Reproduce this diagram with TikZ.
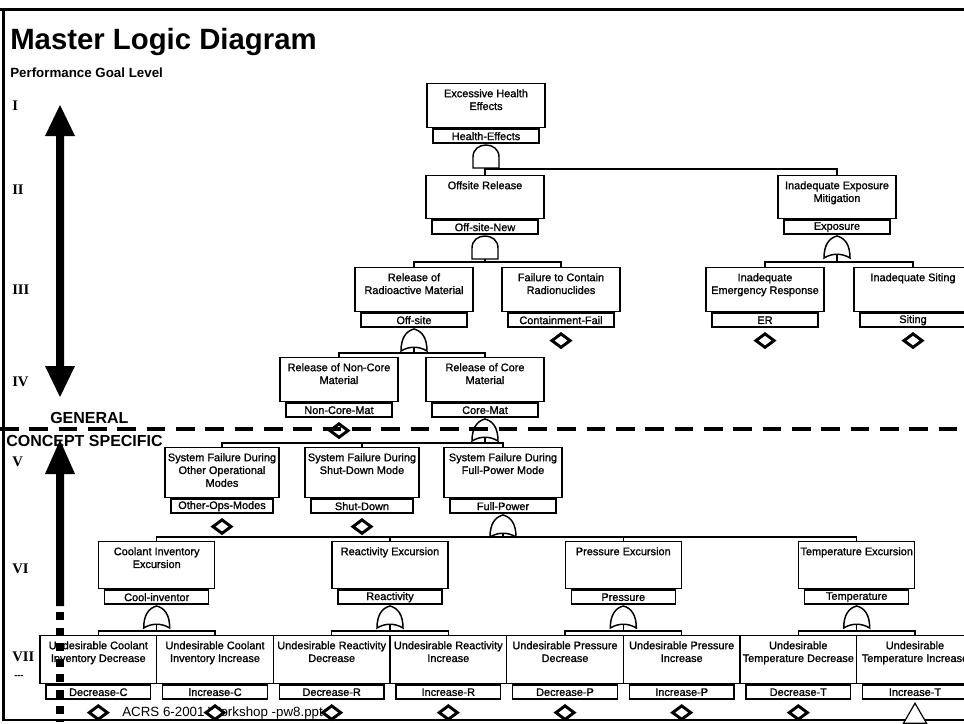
\documentclass[tikz,border=0pt]{standalone}
\usepackage{fontspec}
\setmainfont{Liberation Sans}
\newfontfamily\levelfont{Liberation Serif}
\newfontfamily\boxfont{Liberation Sans}[FakeBold=1.2]
\usetikzlibrary{shapes.geometric}

\tikzset{
  evbox/.style={draw, line width=1.1pt, inner sep=0pt, anchor=north},
  evtext/.style={inner sep=0pt, align=center, anchor=north,
    font=\boxfont\fontsize{8.2pt}{9.6pt}\selectfont},
  lblbox/.style={draw, line width=1.1pt, inner sep=0pt, anchor=north,
    minimum height=10.5pt, font=\boxfont\fontsize{8.2pt}{9.6pt}\selectfont},
  conn/.style={line width=1.1pt},
  gateline/.style={line width=1.1pt},
  basicev/.style={diamond, draw, fill=white, line width=2.2pt, inner sep=0pt,
    minimum width=14.5pt, minimum height=11pt},
  transferev/.style={regular polygon, regular polygon sides=3, draw, fill=white,
    line width=0.9pt, inner sep=0pt, minimum size=20pt},
  lvl/.style={font=\levelfont\bfseries\fontsize{11pt}{13pt}\selectfont,
    anchor=west, inner sep=0pt},
  heading/.style={font=\bfseries\fontsize{12pt}{14pt}\selectfont,
    anchor=base west, inner sep=0pt},
  andgate/.pic={
    \draw[gateline] (-13,23) -- (-13,12) .. controls (-13,-4) and (13,-4) .. (13,12) -- (13,23) -- cycle;
    \coordinate (-out) at (0,23);
  },
  orgate/.pic={
    \draw[gateline] (-13,22) .. controls (-13,9) and (-8,2) .. (0,0)
      .. controls (8,2) and (13,9) .. (13,22)
      .. controls (5,17) and (-5,17) .. (-13,22) -- cycle;
    \coordinate (-out) at (0,18.2);
  },
}

% event box with its description and its identifier tag below
\newcommand\evt[7]{%
  \node[evbox, minimum width={#4*0.75pt}, minimum height={#5*0.75pt}] (#1) at (#2,#3) {};
  \node[evtext] (#1-t) at ([yshift=-4.5pt]#1.north) {#6};
  \node[lblbox, minimum width={(#4-12)*0.75pt}] (#1-l) at (#1.south) {#7};
}
\newcommand\basicbelow[1]{\node[basicev] (#1-d) at ([yshift=-9.5pt]#1-l.south) {};}

\begin{document}
\begin{tikzpicture}[x=0.75pt,y=-0.75pt]
\useasboundingbox (0,0) rectangle (964,724);
\clip (0,0) rectangle (964,724);

% frame
\draw[line width=2.6pt] (0,9.5) -- (964,9.5);
\draw[line width=2pt] (3.5,9) -- (3.5,720) -- (964,720);

% headings
\node[font=\bfseries\fontsize{22pt}{26pt}\selectfont, anchor=base west, inner sep=0pt] (title) at (10,50) {Master Logic Diagram};
\node[font=\bfseries\fontsize{10pt}{12pt}\selectfont, anchor=base west, inner sep=0pt] (pgl) at (10,78) {Performance Goal Level};
\node[heading] (gen) at (50,423) {GENERAL};
\node[heading] (csp) at (6,446) {CONCEPT SPECIFIC};

% level numbers
\node[lvl] (l1) at (12,106) {I};
\node[lvl] (l2) at (12,190) {II};
\node[lvl] (l3) at (12,290) {III};
\node[lvl] (l4) at (12,382) {IV};
\node[lvl] (l5) at (12,462) {V};
\node[lvl] (l6) at (12,569) {VI};
\node[lvl] (l7) at (12,657) {VII};
\node[lvl, font=\bfseries\fontsize{7pt}{8pt}\selectfont] (l8) at (14,677) {-{}-{}-};

% level arrows
\fill (60,105) -- (75,136) -- (64,136) -- (64,366) -- (75,366) -- (60,397)
  -- (45,366) -- (56,366) -- (56,136) -- (45,136) -- cycle;
\fill (60,440) -- (75,474) -- (64,474) -- (64,606) -- (56,606) -- (56,474) -- (45,474) -- cycle;

% footer
\node[font=\fontsize{10pt}{12pt}\selectfont, anchor=west, inner sep=0pt] (footer) at (122,713) {ACRS 6-2001 Workshop -pw8.ppt};

% level I
\evt{heal}{486}{83}{118}{44}{Excessive Health\\Effects}{Health-Effects}
% level II
\evt{offs}{485}{175}{118}{43}{Offsite Release}{Off-site-New}
\evt{expo}{837}{175}{118}{43}{Inadequate Exposure\\Mitigation}{Exposure}
% level III
\evt{radm}{414}{267}{118}{44}{Release of\\Radioactive Material}{Off-site}
\evt{cont}{561}{267}{118}{44}{Failure to Contain\\Radionuclides}{Containment-Fail}
\evt{emer}{765}{267}{118}{44}{Inadequate\\Emergency Response}{ER}
\evt{siti}{913}{267}{118}{44}{Inadequate Siting}{Siting}
% level IV
\evt{ncor}{339}{357}{118}{44}{Release of Non-Core\\Material}{Non-Core-Mat}
\evt{core}{485}{357}{118}{44}{Release of Core\\Material}{Core-Mat}
% level V
\evt{othr}{222}{447}{114}{50}{System Failure During\\Other Operational\\Modes}{Other-Ops-Modes}
\evt{shut}{362}{447}{114}{50}{System Failure During\\Shut-Down Mode}{Shut-Down}
\evt{full}{503}{447}{118}{50}{System Failure During\\Full-Power Mode}{Full-Power}
% level VI
\evt{cool}{156.7}{541}{116}{47}{Coolant Inventory\\Excursion}{Cool-inventor}
\evt{reac}{390}{541}{116}{47}{Reactivity Excursion}{Reactivity}
\evt{pres}{623.3}{541}{116}{47}{Pressure Excursion}{Pressure}
\evt{temp}{856.7}{541}{116}{47}{Temperature Excursion}{Temperature}
% level VII
\evt{decc}{98.3}{635}{116.7}{48}{Undesirable Coolant\\Inventory Decrease}{Decrease-C}
\evt{incc}{215}{635}{116.7}{48}{Undesirable Coolant\\Inventory Increase}{Increase-C}
\evt{decr}{331.7}{635}{116.7}{48}{Undesirable Reactivity\\Decrease}{Decrease-R}
\evt{incr}{448.3}{635}{116.7}{48}{Undesirable Reactivity\\Increase}{Increase-R}
\evt{decp}{565}{635}{116.7}{48}{Undesirable Pressure\\Decrease}{Decrease-P}
\evt{incp}{681.7}{635}{116.7}{48}{Undesirable Pressure\\Increase}{Increase-P}
\evt{dect}{798.3}{635}{116.7}{48}{Undesirable\\Temperature Decrease}{Decrease-T}
\evt{inct}{915}{635}{116.7}{48}{Undesirable\\Temperature Increase}{Increase-T}

% gates
\pic (g-heal) at ([yshift=-0.8pt]heal-l.south) {andgate};
\pic (g-offs) at ([yshift=-0.8pt]offs-l.south) {andgate};
\pic (g-expo) at ([yshift=-0.8pt]expo-l.south) {orgate};
\pic (g-radm) at ([yshift=-0.8pt]radm-l.south) {orgate};
\pic (g-core) at ([yshift=-0.8pt]core-l.south) {orgate};
\pic (g-full) at ([yshift=-0.8pt]full-l.south) {orgate};
\pic (g-cool) at ([yshift=-0.8pt]cool-l.south) {orgate};
\pic (g-reac) at ([yshift=-0.8pt]reac-l.south) {orgate};
\pic (g-pres) at ([yshift=-0.8pt]pres-l.south) {orgate};
\pic (g-temp) at ([yshift=-0.8pt]temp-l.south) {orgate};

% basic events and transfer
\basicbelow{cont}\basicbelow{emer}\basicbelow{siti}
\basicbelow{ncor}\basicbelow{othr}\basicbelow{shut}
\basicbelow{decc}\basicbelow{incc}\basicbelow{decr}\basicbelow{incr}
\basicbelow{decp}\basicbelow{incp}\basicbelow{dect}
\node[transferev] (inct-x) at ([yshift=-12.5pt]inct-l.south) {};

% connectors
\draw[conn] (offs.north) -- ++(0,-6) coordinate (j-heal) -| (expo.north);
\draw[conn] (g-heal-out) -- (g-heal-out |- j-heal);
\draw[conn] (radm.north) -- ++(0,-5) coordinate (j-offs) -| (cont.north);
\draw[conn] (g-offs-out) -- (g-offs-out |- j-offs);
\draw[conn] (emer.north) -- ++(0,-5) coordinate (j-expo) -| (siti.north);
\draw[conn] (g-expo-out) -- (g-expo-out |- j-expo);
\draw[conn] (ncor.north) -- ++(0,-4) coordinate (j-radm) -| (core.north);
\draw[conn] (g-radm-out) -- (g-radm-out |- j-radm);
\draw[conn] (othr.north) -- ++(0,-4) coordinate (j-core) -| (full.north);
\draw[conn] (shut.north) -- (shut.north |- j-core);
\draw[conn] (g-core-out) -- (g-core-out |- j-core);
\draw[conn] (cool.north) -- ++(0,-4) coordinate (j-full) -| (temp.north);
\draw[conn] (reac.north) -- (reac.north |- j-full);
\draw[conn] (pres.north) -- (pres.north |- j-full);
\draw[conn] (g-full-out) -- (g-full-out |- j-full);
\draw[conn] (decc.north) -- ++(0,-4) coordinate (j-cool) -| (incc.north);
\draw[conn] (g-cool-out) -- (g-cool-out |- j-cool);
\draw[conn] (decr.north) -- ++(0,-4) coordinate (j-reac) -| (incr.north);
\draw[conn] (g-reac-out) -- (g-reac-out |- j-reac);
\draw[conn] (decp.north) -- ++(0,-4) coordinate (j-pres) -| (incp.north);
\draw[conn] (g-pres-out) -- (g-pres-out |- j-pres);
\draw[conn] (dect.north) -- ++(0,-4) coordinate (j-temp) -| (inct.north);
\draw[conn] (g-temp-out) -- (g-temp-out |- j-temp);

% boundary between general and concept specific levels
\draw[line width=3.4pt, dash pattern=on 14pt off 8pt] (0,429) -- (964,429);

% dotted continuation of the lower level arrow
\draw[line width=6pt, dash pattern=on 6pt off 5.7pt] (60,612) -- (60,722);
\end{tikzpicture}
\end{document}
